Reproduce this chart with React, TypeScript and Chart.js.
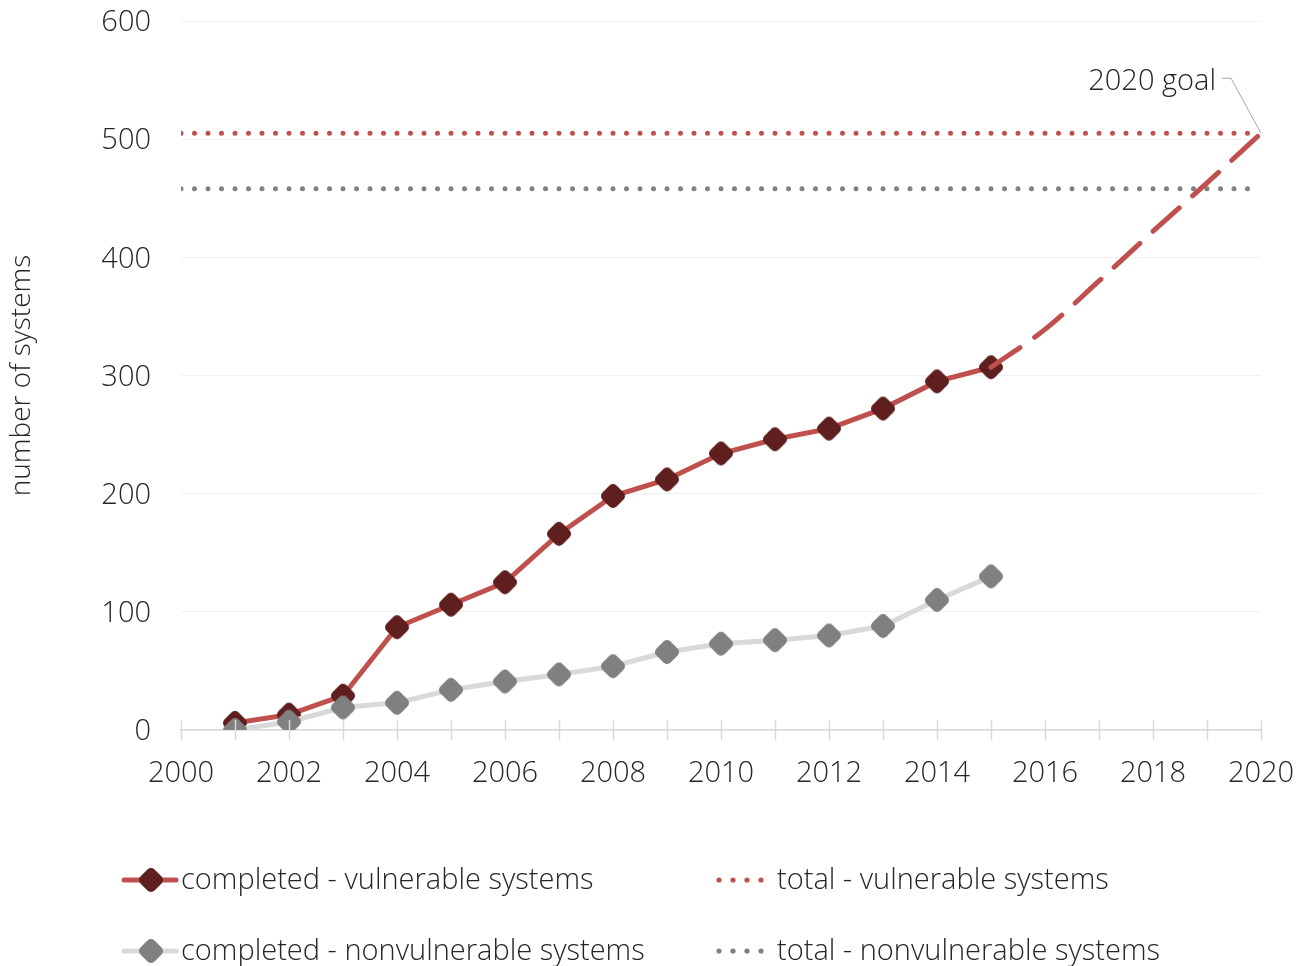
import React, { useEffect, useRef } from "react";
import { Chart, registerables } from "chart.js";

Chart.register(...registerables);

// ---- data ----
const years = [2001, 2002, 2003, 2004, 2005, 2006, 2007, 2008, 2009, 2010, 2011, 2012, 2013, 2014, 2015];
const completedVulnerable = [6, 13, 29, 87, 106, 125, 166, 198, 212, 234, 246, 255, 272, 295, 307];
const completedNonvulnerable = [0, 7, 19, 23, 34, 41, 47, 54, 66, 73, 76, 80, 88, 110, 130];
const projectionYears = [2015, 2016, 2017, 2018, 2019, 2020];
const projectionValues = [307, 339, 380, 422, 463, 505];
const totalYears = [2000, 2020];
const totalVulnerable = [505, 505];
const totalNonvulnerable = [458, 458];
const goalYear = 2020;
const goalValue = 505;
const goalLabel = "2020 goal";
const yTitle = "number of systems";
const legendLabels = [
  "completed - vulnerable systems",
  "total - vulnerable systems",
  "completed - nonvulnerable systems",
  "total - nonvulnerable systems",
];

// ---- style ----
const FONT = "'Open Sans', 'DejaVu Sans', sans-serif";
const FONT_SIZE = 29;
const FONT_WEIGHT = 300;
const TEXT = "#262626";
const RED = "#c0504d";
const MAROON = "#5f1f1e";
const GRAY_LINE = "#d9d9d9";
const GRAY_MARK = "#808080";

function makeDiamond(color: string) {
  const size = 30;
  const c = document.createElement("canvas");
  c.width = size;
  c.height = size;
  const ctx = c.getContext("2d")!;
  const h = size / 2;
  const r = 7;
  ctx.fillStyle = color;
  ctx.strokeStyle = color;
  ctx.lineWidth = 10;
  ctx.lineJoin = "round";
  ctx.beginPath();
  ctx.moveTo(h, h - r);
  ctx.lineTo(h + r, h);
  ctx.lineTo(h, h + r);
  ctx.lineTo(h - r, h);
  ctx.closePath();
  ctx.fill();
  ctx.stroke();
  return c;
}

const toXY = (xs: number[], ys: number[]) => xs.map((x, i) => ({ x, y: ys[i] }));

export default function App() {
  const ref = useRef<HTMLCanvasElement | null>(null);

  useEffect(() => {
    document.body.style.margin = "0";
    const canvas = ref.current!;
    const maroonDiamond = makeDiamond(MAROON);
    const grayDiamond = makeDiamond(GRAY_MARK);
    const fontStr = `${FONT_WEIGHT} ${FONT_SIZE}px ${FONT}`;

    const overlay = {
      id: "overlay",
      afterDraw(chart: any) {
        const ctx = chart.ctx as CanvasRenderingContext2D;
        const xs = chart.scales.x;
        const ys = chart.scales.y;
        const area = chart.chartArea;
        ctx.save();
        // cross tick marks on x axis
        ctx.strokeStyle = GRAY_LINE;
        ctx.lineWidth = 1.5;
        for (let yr = 2000; yr <= 2020; yr++) {
          const px = Math.round(xs.getPixelForValue(yr)) + 0.5;
          ctx.beginPath();
          ctx.moveTo(px, area.bottom - 10);
          ctx.lineTo(px, area.bottom + 10);
          ctx.stroke();
        }
        // goal annotation
        const gx = xs.getPixelForValue(goalYear);
        const gy = ys.getPixelForValue(goalValue);
        ctx.strokeStyle = "#a6a6a6";
        ctx.lineWidth = 1;
        ctx.beginPath();
        ctx.moveTo(gx - 39, gy - 55);
        ctx.lineTo(gx - 30, gy - 55);
        ctx.lineTo(gx, gy);
        ctx.stroke();
        ctx.fillStyle = TEXT;
        ctx.font = fontStr;
        ctx.textAlign = "right";
        ctx.textBaseline = "middle";
        ctx.fillText(goalLabel, gx - 45, gy - 52);

        // legend
        const rows = [880, 951];
        ctx.textAlign = "left";
        ctx.textBaseline = "middle";
        const col1 = [
          { line: RED, mark: maroonDiamond, label: legendLabels[0] },
          { line: GRAY_LINE, mark: grayDiamond, label: legendLabels[2] },
        ];
        col1.forEach((e, i) => {
          const y = rows[i];
          ctx.strokeStyle = e.line;
          ctx.lineWidth = 5;
          ctx.lineCap = "round";
          ctx.beginPath();
          ctx.moveTo(124, y);
          ctx.lineTo(176, y);
          ctx.stroke();
          ctx.drawImage(e.mark, 151 - e.mark.width / 2, y - e.mark.height / 2);
          ctx.fillStyle = TEXT;
          ctx.fillText(e.label, 181, y + 1);
        });
        const col2 = [
          { color: RED, label: legendLabels[1] },
          { color: GRAY_MARK, label: legendLabels[3] },
        ];
        col2.forEach((e, i) => {
          const y = rows[i];
          ctx.fillStyle = e.color;
          for (let k = 0; k < 4; k++) {
            ctx.beginPath();
            ctx.arc(719 + k * 14, y, 2.6, 0, Math.PI * 2);
            ctx.fill();
          }
          ctx.fillStyle = TEXT;
          ctx.fillText(e.label, 777, y + 1);
        });
        ctx.restore();
      },
    };

    const chart = new Chart(canvas, {
      type: "line",
      data: {
        datasets: [
          {
            label: legendLabels[2],
            data: toXY(years, completedNonvulnerable),
            borderColor: GRAY_LINE,
            borderWidth: 5,
            pointStyle: grayDiamond as any,
            pointRadius: 12,
            order: 0,
          },
          {
            label: "projection",
            data: toXY(projectionYears, projectionValues),
            borderColor: RED,
            borderWidth: 5,
            borderDash: [35, 18],
            borderCapStyle: "round",
            cubicInterpolationMode: "monotone",
            pointRadius: 0,
            order: 1,
          },
          {
            label: legendLabels[0],
            data: toXY(years, completedVulnerable),
            borderColor: RED,
            borderWidth: 5,
            pointStyle: maroonDiamond as any,
            pointRadius: 12,
            order: 2,
          },
          {
            label: legendLabels[1],
            data: toXY(totalYears, totalVulnerable),
            borderColor: RED,
            borderWidth: 5,
            borderDash: [0, 13.5],
            borderCapStyle: "round",
            pointRadius: 0,
            order: 3,
          },
          {
            label: legendLabels[3],
            data: toXY(totalYears, totalNonvulnerable),
            borderColor: GRAY_MARK,
            borderWidth: 5,
            borderDash: [0, 13.5],
            borderCapStyle: "round",
            pointRadius: 0,
            order: 3,
          },
        ],
      },
      options: {
        animation: false,
        responsive: false,
        events: [],
        layout: { padding: { left: 0, top: 21, right: 36, bottom: 0 } },
        plugins: { legend: { display: false }, tooltip: { enabled: false } },
        scales: {
          x: {
            type: "linear",
            min: 2000,
            max: 2020,
            ticks: {
              stepSize: 2,
              padding: 26,
              color: TEXT,
              font: { family: FONT, size: FONT_SIZE, weight: FONT_WEIGHT as any },
              callback: (v: any) => String(v),
              maxRotation: 0,
              autoSkip: false,
            },
            grid: { drawOnChartArea: false, drawTicks: false, color: "transparent" },
            border: { display: true, color: GRAY_LINE, width: 1.5 },
            afterFit: (s: any) => {
              s.height = 236;
              s.paddingLeft = 0;
              s.paddingRight = 0;
              s.paddingTop = 0;
              s.paddingBottom = 0;
            },
          },
          y: {
            min: 0,
            max: 600,
            ticks: {
              stepSize: 100,
              padding: 30,
              labelOffset: 2,
              color: TEXT,
              font: { family: FONT, size: FONT_SIZE, weight: FONT_WEIGHT as any },
            },
            grid: { color: "#f0f0f0", lineWidth: 1, drawTicks: false },
            border: { display: false },
            title: {
              display: true,
              text: yTitle,
              color: TEXT,
              font: { family: FONT, size: 28, weight: FONT_WEIGHT as any },
              padding: { top: 5, bottom: 0 },
            },
            afterFit: (s: any) => {
              s.width = 181;
              s.paddingLeft = 0;
              s.paddingRight = 0;
              s.paddingTop = 0;
              s.paddingBottom = 0;
            },
          },
        },
      },
      plugins: [overlay],
    });
    return () => chart.destroy();
  }, []);

  return (
    <div style={{ width: 1297, height: 966 }}>
      <canvas ref={ref} width={1297} height={966} />
    </div>
  );
}
